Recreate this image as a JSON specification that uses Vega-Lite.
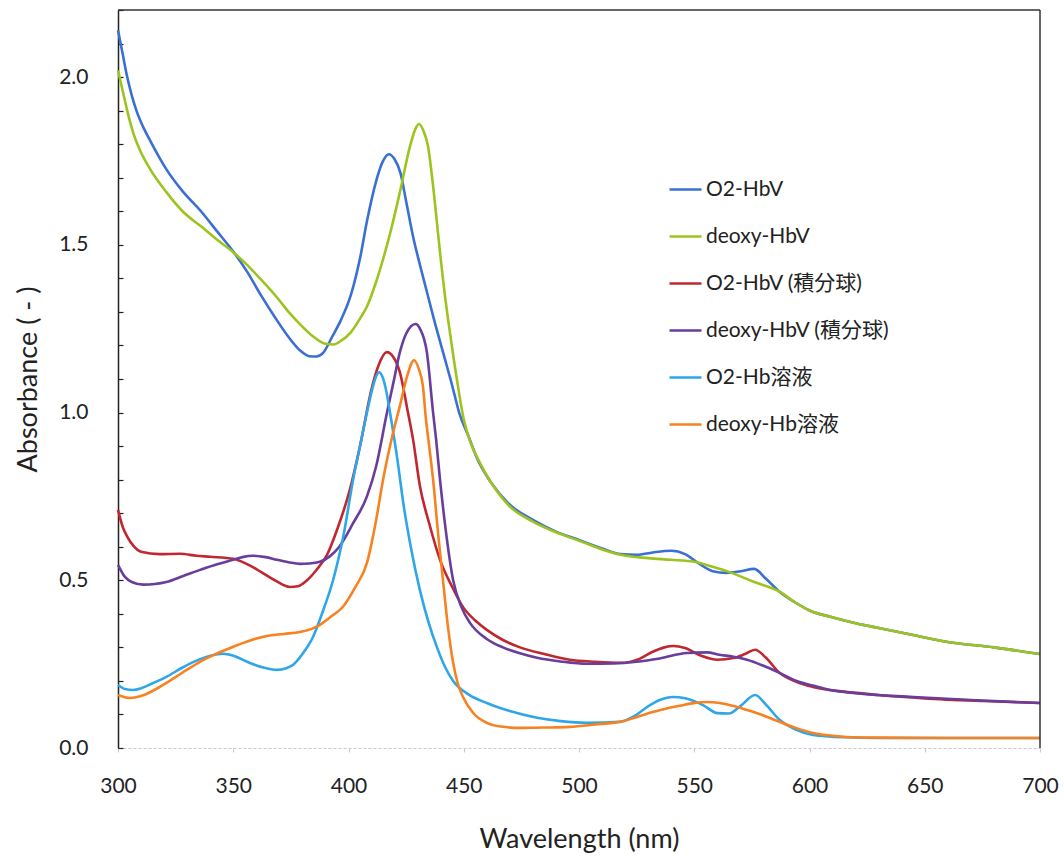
{
  "$schema": "https://vega.github.io/schema/vega-lite/v6.json",
  "width": 922,
  "height": 738,
  "autosize": {"type": "none"},
  "padding": {"left": 118, "top": 10, "right": 24, "bottom": 108},
  "background": "white",
  "config": {
    "view": {"stroke": null},
    "font": "Lato, Noto Sans CJK JP",
    "axis": {"labelFont": "Lato", "titleFont": "Lato", "labelColor": "#222", "titleColor": "#222", "titleFontWeight": "normal"},
    "legend": {"labelFont": "Lato, Noto Sans CJK JP"}
  },
  "resolve": {"axis": {"y": "independent"}},
  "datasets": {
    "spec": [
      {"s":"O2-HbV","nm":300,"a":2.14},{"s":"O2-HbV","nm":302,"a":2.07},{"s":"O2-HbV","nm":304,"a":2.0},{"s":"O2-HbV","nm":306,"a":1.945},{"s":"O2-HbV","nm":308,"a":1.9},{"s":"O2-HbV","nm":311,"a":1.85},{"s":"O2-HbV","nm":314,"a":1.81},{"s":"O2-HbV","nm":321,"a":1.725},{"s":"O2-HbV","nm":328,"a":1.66},{"s":"O2-HbV","nm":336,"a":1.6},{"s":"O2-HbV","nm":343,"a":1.54},{"s":"O2-HbV","nm":350,"a":1.48},{"s":"O2-HbV","nm":356,"a":1.42},{"s":"O2-HbV","nm":362,"a":1.35},{"s":"O2-HbV","nm":368,"a":1.285},{"s":"O2-HbV","nm":374,"a":1.225},{"s":"O2-HbV","nm":379,"a":1.185},{"s":"O2-HbV","nm":383,"a":1.168},{"s":"O2-HbV","nm":386,"a":1.167},{"s":"O2-HbV","nm":389,"a":1.178},{"s":"O2-HbV","nm":393,"a":1.227},{"s":"O2-HbV","nm":397,"a":1.28},{"s":"O2-HbV","nm":401,"a":1.35},{"s":"O2-HbV","nm":405,"a":1.46},{"s":"O2-HbV","nm":408,"a":1.57},{"s":"O2-HbV","nm":412,"a":1.69},{"s":"O2-HbV","nm":415,"a":1.75},{"s":"O2-HbV","nm":417.5,"a":1.77},{"s":"O2-HbV","nm":420,"a":1.755},{"s":"O2-HbV","nm":422.5,"a":1.715},{"s":"O2-HbV","nm":425,"a":1.63},{"s":"O2-HbV","nm":428,"a":1.525},{"s":"O2-HbV","nm":431,"a":1.44},{"s":"O2-HbV","nm":434,"a":1.36},{"s":"O2-HbV","nm":437,"a":1.28},{"s":"O2-HbV","nm":441,"a":1.18},{"s":"O2-HbV","nm":445,"a":1.08},{"s":"O2-HbV","nm":448,"a":1.0},{"s":"O2-HbV","nm":452,"a":0.93},{"s":"O2-HbV","nm":456,"a":0.86},{"s":"O2-HbV","nm":462,"a":0.79},{"s":"O2-HbV","nm":470,"a":0.725},{"s":"O2-HbV","nm":480,"a":0.68},{"s":"O2-HbV","nm":490,"a":0.645},{"s":"O2-HbV","nm":500,"a":0.62},{"s":"O2-HbV","nm":510,"a":0.595},{"s":"O2-HbV","nm":518,"a":0.578},{"s":"O2-HbV","nm":525,"a":0.576},{"s":"O2-HbV","nm":532,"a":0.583},{"s":"O2-HbV","nm":540,"a":0.588},{"s":"O2-HbV","nm":546,"a":0.578},{"s":"O2-HbV","nm":552,"a":0.55},{"s":"O2-HbV","nm":558,"a":0.527},{"s":"O2-HbV","nm":564,"a":0.522},{"s":"O2-HbV","nm":570,"a":0.527},{"s":"O2-HbV","nm":576,"a":0.534},{"s":"O2-HbV","nm":581,"a":0.505},{"s":"O2-HbV","nm":587,"a":0.466},{"s":"O2-HbV","nm":594,"a":0.433},{"s":"O2-HbV","nm":600,"a":0.41},{"s":"O2-HbV","nm":609,"a":0.391},{"s":"O2-HbV","nm":620,"a":0.372},{"s":"O2-HbV","nm":630,"a":0.358},{"s":"O2-HbV","nm":645,"a":0.337},{"s":"O2-HbV","nm":660,"a":0.316},{"s":"O2-HbV","nm":680,"a":0.3},{"s":"O2-HbV","nm":700,"a":0.28},

      {"s":"deoxy-HbV","nm":300,"a":2.02},{"s":"deoxy-HbV","nm":302,"a":1.96},{"s":"deoxy-HbV","nm":304,"a":1.9},{"s":"deoxy-HbV","nm":306.5,"a":1.836},{"s":"deoxy-HbV","nm":310,"a":1.775},{"s":"deoxy-HbV","nm":314,"a":1.725},{"s":"deoxy-HbV","nm":321,"a":1.657},{"s":"deoxy-HbV","nm":328,"a":1.6},{"s":"deoxy-HbV","nm":336,"a":1.555},{"s":"deoxy-HbV","nm":343,"a":1.515},{"s":"deoxy-HbV","nm":350,"a":1.478},{"s":"deoxy-HbV","nm":356,"a":1.44},{"s":"deoxy-HbV","nm":362,"a":1.397},{"s":"deoxy-HbV","nm":369,"a":1.343},{"s":"deoxy-HbV","nm":374,"a":1.3},{"s":"deoxy-HbV","nm":379,"a":1.263},{"s":"deoxy-HbV","nm":385,"a":1.225},{"s":"deoxy-HbV","nm":390,"a":1.205},{"s":"deoxy-HbV","nm":393.5,"a":1.203},{"s":"deoxy-HbV","nm":397,"a":1.215},{"s":"deoxy-HbV","nm":401,"a":1.239},{"s":"deoxy-HbV","nm":405,"a":1.28},{"s":"deoxy-HbV","nm":408,"a":1.316},{"s":"deoxy-HbV","nm":412,"a":1.39},{"s":"deoxy-HbV","nm":415,"a":1.457},{"s":"deoxy-HbV","nm":419,"a":1.56},{"s":"deoxy-HbV","nm":422.3,"a":1.657},{"s":"deoxy-HbV","nm":426.7,"a":1.794},{"s":"deoxy-HbV","nm":429,"a":1.845},{"s":"deoxy-HbV","nm":430.6,"a":1.86},{"s":"deoxy-HbV","nm":432.5,"a":1.84},{"s":"deoxy-HbV","nm":434.5,"a":1.794},{"s":"deoxy-HbV","nm":436.7,"a":1.675},{"s":"deoxy-HbV","nm":439.7,"a":1.478},{"s":"deoxy-HbV","nm":442,"a":1.34},{"s":"deoxy-HbV","nm":444,"a":1.239},{"s":"deoxy-HbV","nm":447,"a":1.1},{"s":"deoxy-HbV","nm":450,"a":0.98},{"s":"deoxy-HbV","nm":453,"a":0.91},{"s":"deoxy-HbV","nm":457,"a":0.85},{"s":"deoxy-HbV","nm":462,"a":0.79},{"s":"deoxy-HbV","nm":470,"a":0.72},{"s":"deoxy-HbV","nm":480,"a":0.675},{"s":"deoxy-HbV","nm":490,"a":0.643},{"s":"deoxy-HbV","nm":500,"a":0.618},{"s":"deoxy-HbV","nm":510,"a":0.592},{"s":"deoxy-HbV","nm":518,"a":0.576},{"s":"deoxy-HbV","nm":530,"a":0.566},{"s":"deoxy-HbV","nm":540,"a":0.561},{"s":"deoxy-HbV","nm":550,"a":0.555},{"s":"deoxy-HbV","nm":558,"a":0.54},{"s":"deoxy-HbV","nm":565,"a":0.525},{"s":"deoxy-HbV","nm":576,"a":0.495},{"s":"deoxy-HbV","nm":587,"a":0.466},{"s":"deoxy-HbV","nm":594,"a":0.433},{"s":"deoxy-HbV","nm":600,"a":0.41},{"s":"deoxy-HbV","nm":609,"a":0.391},{"s":"deoxy-HbV","nm":620,"a":0.372},{"s":"deoxy-HbV","nm":630,"a":0.358},{"s":"deoxy-HbV","nm":645,"a":0.337},{"s":"deoxy-HbV","nm":660,"a":0.316},{"s":"deoxy-HbV","nm":680,"a":0.3},{"s":"deoxy-HbV","nm":700,"a":0.28},

      {"s":"O2-HbV (積分球)","nm":300,"a":0.71},{"s":"O2-HbV (積分球)","nm":302,"a":0.66},{"s":"O2-HbV (積分球)","nm":304,"a":0.63},{"s":"O2-HbV (積分球)","nm":307,"a":0.6},{"s":"O2-HbV (積分球)","nm":310,"a":0.585},{"s":"O2-HbV (積分球)","nm":318,"a":0.578},{"s":"O2-HbV (積分球)","nm":327,"a":0.579},{"s":"O2-HbV (積分球)","nm":334,"a":0.573},{"s":"O2-HbV (積分球)","nm":340,"a":0.57},{"s":"O2-HbV (積分球)","nm":350,"a":0.564},{"s":"O2-HbV (積分球)","nm":356,"a":0.548},{"s":"O2-HbV (積分球)","nm":362,"a":0.525},{"s":"O2-HbV (積分球)","nm":368,"a":0.5},{"s":"O2-HbV (積分球)","nm":374.6,"a":0.48},{"s":"O2-HbV (積分球)","nm":378,"a":0.482},{"s":"O2-HbV (積分球)","nm":382,"a":0.5},{"s":"O2-HbV (積分球)","nm":386,"a":0.53},{"s":"O2-HbV (積分球)","nm":390.7,"a":0.576},{"s":"O2-HbV (積分球)","nm":395,"a":0.65},{"s":"O2-HbV (積分球)","nm":400.6,"a":0.77},{"s":"O2-HbV (積分球)","nm":405,"a":0.9},{"s":"O2-HbV (積分球)","nm":410,"a":1.07},{"s":"O2-HbV (積分球)","nm":413,"a":1.14},{"s":"O2-HbV (積分球)","nm":416.6,"a":1.18},{"s":"O2-HbV (積分球)","nm":419.5,"a":1.165},{"s":"O2-HbV (積分球)","nm":422.3,"a":1.12},{"s":"O2-HbV (積分球)","nm":425.8,"a":1.0},{"s":"O2-HbV (積分球)","nm":428,"a":0.92},{"s":"O2-HbV (積分球)","nm":431,"a":0.78},{"s":"O2-HbV (積分球)","nm":435,"a":0.67},{"s":"O2-HbV (積分球)","nm":439.7,"a":0.561},{"s":"O2-HbV (積分球)","nm":445,"a":0.48},{"s":"O2-HbV (積分球)","nm":449.7,"a":0.42},{"s":"O2-HbV (積分球)","nm":455,"a":0.38},{"s":"O2-HbV (積分球)","nm":460,"a":0.352},{"s":"O2-HbV (積分球)","nm":467,"a":0.322},{"s":"O2-HbV (積分球)","nm":474.4,"a":0.3},{"s":"O2-HbV (積分球)","nm":485,"a":0.28},{"s":"O2-HbV (積分球)","nm":496,"a":0.263},{"s":"O2-HbV (積分球)","nm":507,"a":0.257},{"s":"O2-HbV (積分球)","nm":518,"a":0.254},{"s":"O2-HbV (積分球)","nm":526,"a":0.265},{"s":"O2-HbV (積分球)","nm":532,"a":0.287},{"s":"O2-HbV (積分球)","nm":537,"a":0.3},{"s":"O2-HbV (積分球)","nm":541,"a":0.304},{"s":"O2-HbV (積分球)","nm":546,"a":0.298},{"s":"O2-HbV (積分球)","nm":553,"a":0.275},{"s":"O2-HbV (積分球)","nm":560,"a":0.263},{"s":"O2-HbV (積分球)","nm":567,"a":0.268},{"s":"O2-HbV (積分球)","nm":572,"a":0.28},{"s":"O2-HbV (積分球)","nm":576.4,"a":0.293},{"s":"O2-HbV (積分球)","nm":581,"a":0.27},{"s":"O2-HbV (積分球)","nm":587,"a":0.224},{"s":"O2-HbV (積分球)","nm":594,"a":0.198},{"s":"O2-HbV (積分球)","nm":601.5,"a":0.182},{"s":"O2-HbV (積分球)","nm":615,"a":0.168},{"s":"O2-HbV (積分球)","nm":630,"a":0.158},{"s":"O2-HbV (積分球)","nm":650,"a":0.148},{"s":"O2-HbV (積分球)","nm":675,"a":0.14},{"s":"O2-HbV (積分球)","nm":700,"a":0.134},

      {"s":"deoxy-HbV (積分球)","nm":300,"a":0.546},{"s":"deoxy-HbV (積分球)","nm":303,"a":0.51},{"s":"deoxy-HbV (積分球)","nm":306,"a":0.495},{"s":"deoxy-HbV (積分球)","nm":311,"a":0.487},{"s":"deoxy-HbV (積分球)","nm":316,"a":0.489},{"s":"deoxy-HbV (積分球)","nm":321,"a":0.495},{"s":"deoxy-HbV (積分球)","nm":328,"a":0.512},{"s":"deoxy-HbV (積分球)","nm":335.6,"a":0.531},{"s":"deoxy-HbV (積分球)","nm":343,"a":0.548},{"s":"deoxy-HbV (積分球)","nm":350,"a":0.561},{"s":"deoxy-HbV (積分球)","nm":354,"a":0.569},{"s":"deoxy-HbV (積分球)","nm":358.6,"a":0.573},{"s":"deoxy-HbV (積分球)","nm":364,"a":0.569},{"s":"deoxy-HbV (積分球)","nm":369,"a":0.561},{"s":"deoxy-HbV (積分球)","nm":374,"a":0.554},{"s":"deoxy-HbV (積分球)","nm":379,"a":0.549},{"s":"deoxy-HbV (積分球)","nm":383,"a":0.55},{"s":"deoxy-HbV (積分球)","nm":387.6,"a":0.555},{"s":"deoxy-HbV (積分球)","nm":392,"a":0.572},{"s":"deoxy-HbV (積分球)","nm":396,"a":0.6},{"s":"deoxy-HbV (積分球)","nm":402,"a":0.67},{"s":"deoxy-HbV (積分球)","nm":408,"a":0.75},{"s":"deoxy-HbV (積分球)","nm":412,"a":0.84},{"s":"deoxy-HbV (積分球)","nm":416.7,"a":1.0},{"s":"deoxy-HbV (積分球)","nm":419.5,"a":1.09},{"s":"deoxy-HbV (積分球)","nm":422.3,"a":1.18},{"s":"deoxy-HbV (積分球)","nm":425,"a":1.235},{"s":"deoxy-HbV (積分球)","nm":429.1,"a":1.264},{"s":"deoxy-HbV (積分球)","nm":431,"a":1.25},{"s":"deoxy-HbV (積分球)","nm":434,"a":1.18},{"s":"deoxy-HbV (積分球)","nm":436.7,"a":1.0},{"s":"deoxy-HbV (積分球)","nm":438,"a":0.92},{"s":"deoxy-HbV (積分球)","nm":439.7,"a":0.8},{"s":"deoxy-HbV (積分球)","nm":442,"a":0.66},{"s":"deoxy-HbV (積分球)","nm":445.4,"a":0.5},{"s":"deoxy-HbV (積分球)","nm":449,"a":0.42},{"s":"deoxy-HbV (積分球)","nm":452.7,"a":0.373},{"s":"deoxy-HbV (積分球)","nm":460,"a":0.325},{"s":"deoxy-HbV (積分球)","nm":467,"a":0.3},{"s":"deoxy-HbV (積分球)","nm":474,"a":0.283},{"s":"deoxy-HbV (積分球)","nm":481.8,"a":0.269},{"s":"deoxy-HbV (積分球)","nm":492,"a":0.258},{"s":"deoxy-HbV (積分球)","nm":503.5,"a":0.251},{"s":"deoxy-HbV (積分球)","nm":515,"a":0.252},{"s":"deoxy-HbV (積分球)","nm":525,"a":0.257},{"s":"deoxy-HbV (積分球)","nm":535,"a":0.267},{"s":"deoxy-HbV (積分球)","nm":546.8,"a":0.283},{"s":"deoxy-HbV (積分球)","nm":555.5,"a":0.285},{"s":"deoxy-HbV (積分球)","nm":561,"a":0.278},{"s":"deoxy-HbV (積分球)","nm":567,"a":0.272},{"s":"deoxy-HbV (積分球)","nm":572.9,"a":0.263},{"s":"deoxy-HbV (積分球)","nm":580,"a":0.245},{"s":"deoxy-HbV (積分球)","nm":587,"a":0.224},{"s":"deoxy-HbV (積分球)","nm":595,"a":0.198},{"s":"deoxy-HbV (積分球)","nm":601.5,"a":0.186},{"s":"deoxy-HbV (積分球)","nm":609,"a":0.173},{"s":"deoxy-HbV (積分球)","nm":620,"a":0.163},{"s":"deoxy-HbV (積分球)","nm":645,"a":0.152},{"s":"deoxy-HbV (積分球)","nm":670,"a":0.143},{"s":"deoxy-HbV (積分球)","nm":700,"a":0.134},

      {"s":"O2-Hb溶液","nm":300,"a":0.188},{"s":"O2-Hb溶液","nm":303,"a":0.176},{"s":"O2-Hb溶液","nm":306.5,"a":0.173},{"s":"O2-Hb溶液","nm":310,"a":0.178},{"s":"O2-Hb溶液","nm":315,"a":0.193},{"s":"O2-Hb溶液","nm":321,"a":0.212},{"s":"O2-Hb溶液","nm":328,"a":0.24},{"s":"O2-Hb溶液","nm":335.6,"a":0.265},{"s":"O2-Hb溶液","nm":340,"a":0.275},{"s":"O2-Hb溶液","nm":345.6,"a":0.281},{"s":"O2-Hb溶液","nm":350,"a":0.275},{"s":"O2-Hb溶液","nm":357,"a":0.254},{"s":"O2-Hb溶液","nm":363,"a":0.24},{"s":"O2-Hb溶液","nm":369,"a":0.233},{"s":"O2-Hb溶液","nm":373,"a":0.238},{"s":"O2-Hb溶液","nm":376,"a":0.248},{"s":"O2-Hb溶液","nm":380,"a":0.28},{"s":"O2-Hb溶液","nm":384.6,"a":0.331},{"s":"O2-Hb溶液","nm":389,"a":0.41},{"s":"O2-Hb溶液","nm":393.3,"a":0.5},{"s":"O2-Hb溶液","nm":398,"a":0.64},{"s":"O2-Hb溶液","nm":402,"a":0.8},{"s":"O2-Hb溶液","nm":405,"a":0.9},{"s":"O2-Hb溶液","nm":408,"a":1.0},{"s":"O2-Hb溶液","nm":410.5,"a":1.075},{"s":"O2-Hb溶液","nm":412,"a":1.108},{"s":"O2-Hb溶液","nm":413.3,"a":1.12},{"s":"O2-Hb溶液","nm":414.8,"a":1.105},{"s":"O2-Hb溶液","nm":416.5,"a":1.06},{"s":"O2-Hb溶液","nm":418,"a":1.0},{"s":"O2-Hb溶液","nm":421,"a":0.87},{"s":"O2-Hb溶液","nm":424,"a":0.72},{"s":"O2-Hb溶液","nm":427,"a":0.6},{"s":"O2-Hb溶液","nm":431,"a":0.47},{"s":"O2-Hb溶液","nm":434.5,"a":0.38},{"s":"O2-Hb溶液","nm":438.4,"a":0.3},{"s":"O2-Hb溶液","nm":442,"a":0.24},{"s":"O2-Hb溶液","nm":445.4,"a":0.2},{"s":"O2-Hb溶液","nm":452,"a":0.16},{"s":"O2-Hb溶液","nm":460,"a":0.134},{"s":"O2-Hb溶液","nm":470,"a":0.11},{"s":"O2-Hb溶液","nm":481.8,"a":0.09},{"s":"O2-Hb溶液","nm":492,"a":0.08},{"s":"O2-Hb溶液","nm":503.5,"a":0.075},{"s":"O2-Hb溶液","nm":517.8,"a":0.078},{"s":"O2-Hb溶液","nm":524,"a":0.095},{"s":"O2-Hb溶液","nm":529.5,"a":0.122},{"s":"O2-Hb溶液","nm":535,"a":0.143},{"s":"O2-Hb溶液","nm":540.8,"a":0.152},{"s":"O2-Hb溶液","nm":546,"a":0.148},{"s":"O2-Hb溶液","nm":553.8,"a":0.128},{"s":"O2-Hb溶液","nm":560,"a":0.104},{"s":"O2-Hb溶液","nm":565,"a":0.103},{"s":"O2-Hb溶液","nm":570,"a":0.125},{"s":"O2-Hb溶液","nm":576.4,"a":0.158},{"s":"O2-Hb溶液","nm":581,"a":0.13},{"s":"O2-Hb溶液","nm":587,"a":0.084},{"s":"O2-Hb溶液","nm":594,"a":0.055},{"s":"O2-Hb溶液","nm":601.5,"a":0.039},{"s":"O2-Hb溶液","nm":615,"a":0.032},{"s":"O2-Hb溶液","nm":630,"a":0.03},{"s":"O2-Hb溶液","nm":660,"a":0.03},{"s":"O2-Hb溶液","nm":700,"a":0.03},

      {"s":"deoxy-Hb溶液","nm":300,"a":0.158},{"s":"deoxy-Hb溶液","nm":305.2,"a":0.149},{"s":"deoxy-Hb溶液","nm":310,"a":0.155},{"s":"deoxy-Hb溶液","nm":315,"a":0.17},{"s":"deoxy-Hb溶液","nm":321,"a":0.194},{"s":"deoxy-Hb溶液","nm":328,"a":0.225},{"s":"deoxy-Hb溶液","nm":335.6,"a":0.257},{"s":"deoxy-Hb溶液","nm":343,"a":0.282},{"s":"deoxy-Hb溶液","nm":350,"a":0.302},{"s":"deoxy-Hb溶液","nm":357,"a":0.32},{"s":"deoxy-Hb溶液","nm":364.6,"a":0.334},{"s":"deoxy-Hb溶液","nm":372,"a":0.34},{"s":"deoxy-Hb溶液","nm":379,"a":0.346},{"s":"deoxy-Hb溶液","nm":384,"a":0.355},{"s":"deoxy-Hb溶液","nm":387.6,"a":0.367},{"s":"deoxy-Hb溶液","nm":392,"a":0.39},{"s":"deoxy-Hb溶液","nm":397.6,"a":0.421},{"s":"deoxy-Hb溶液","nm":403,"a":0.48},{"s":"deoxy-Hb溶液","nm":408,"a":0.552},{"s":"deoxy-Hb溶液","nm":412,"a":0.68},{"s":"deoxy-Hb溶液","nm":415,"a":0.8},{"s":"deoxy-Hb溶液","nm":419,"a":0.93},{"s":"deoxy-Hb溶液","nm":422.3,"a":1.02},{"s":"deoxy-Hb溶液","nm":425.5,"a":1.11},{"s":"deoxy-Hb溶液","nm":428.4,"a":1.156},{"s":"deoxy-Hb溶液","nm":430.5,"a":1.13},{"s":"deoxy-Hb溶液","nm":432.3,"a":1.078},{"s":"deoxy-Hb溶液","nm":433.6,"a":0.98},{"s":"deoxy-Hb溶液","nm":435,"a":0.9},{"s":"deoxy-Hb溶液","nm":436.7,"a":0.8},{"s":"deoxy-Hb溶液","nm":439,"a":0.63},{"s":"deoxy-Hb溶液","nm":441,"a":0.5},{"s":"deoxy-Hb溶液","nm":443,"a":0.37},{"s":"deoxy-Hb溶液","nm":445.4,"a":0.254},{"s":"deoxy-Hb溶液","nm":447.5,"a":0.19},{"s":"deoxy-Hb溶液","nm":449.7,"a":0.152},{"s":"deoxy-Hb溶液","nm":454,"a":0.105},{"s":"deoxy-Hb溶液","nm":460,"a":0.075},{"s":"deoxy-Hb溶液","nm":466,"a":0.064},{"s":"deoxy-Hb溶液","nm":474.4,"a":0.06},{"s":"deoxy-Hb溶液","nm":485,"a":0.061},{"s":"deoxy-Hb溶液","nm":496,"a":0.063},{"s":"deoxy-Hb溶液","nm":507,"a":0.07},{"s":"deoxy-Hb溶液","nm":517.8,"a":0.078},{"s":"deoxy-Hb溶液","nm":525,"a":0.092},{"s":"deoxy-Hb溶液","nm":532,"a":0.107},{"s":"deoxy-Hb溶液","nm":538,"a":0.118},{"s":"deoxy-Hb溶液","nm":543.8,"a":0.126},{"s":"deoxy-Hb溶液","nm":549,"a":0.133},{"s":"deoxy-Hb溶液","nm":555.5,"a":0.137},{"s":"deoxy-Hb溶液","nm":561,"a":0.134},{"s":"deoxy-Hb溶液","nm":567,"a":0.125},{"s":"deoxy-Hb溶液","nm":572.9,"a":0.113},{"s":"deoxy-Hb溶液","nm":580,"a":0.097},{"s":"deoxy-Hb溶液","nm":587,"a":0.078},{"s":"deoxy-Hb溶液","nm":594,"a":0.06},{"s":"deoxy-Hb溶液","nm":601.5,"a":0.045},{"s":"deoxy-Hb溶液","nm":608,"a":0.038},{"s":"deoxy-Hb溶液","nm":616,"a":0.033},{"s":"deoxy-Hb溶液","nm":630,"a":0.031},{"s":"deoxy-Hb溶液","nm":660,"a":0.03},{"s":"deoxy-Hb溶液","nm":700,"a":0.03}
    ]
  },
  "layer": [
    {
      "data": {"name": "spec"},
      "mark": {"type": "line", "interpolate": "monotone", "strokeWidth": 2.6},
      "encoding": {
        "x": {
          "field": "nm", "type": "quantitative",
          "scale": {"domain": [300, 700], "nice": false, "zero": false},
          "axis": {
            "title": "Wavelength (nm)", "values": [300, 350, 400, 450, 500, 550, 600, 650, 700],
            "grid": false, "labelFontSize": 21, "titleFontSize": 27, "labelPadding": 23,
            "titlePadding": 30, "domainColor": "#c8c8cc", "domainDash": [3, 2], "tickColor": "#c8c8cc", "tickSize": 4, "labelFlush": false
          }
        },
        "y": {
          "field": "a", "type": "quantitative",
          "scale": {"domain": [0, 2.2], "nice": false},
          "axis": {
            "title": "Absorbance ( - )",
            "values": [0, 0.5, 1.0, 1.5, 2.0],
            "format": ".1f",
            "labelOverlap": false, "ticks": false, "domain": false,
            "grid": false, "labelFontSize": 21, "titleFontSize": 27, "labelPadding": 30,
            "titlePadding": 16, "labelFlush": false
          }
        },
        "color": {
          "field": "s", "type": "nominal",
          "scale": {
            "domain": ["O2-HbV", "deoxy-HbV", "O2-HbV (積分球)", "deoxy-HbV (積分球)", "O2-Hb溶液", "deoxy-Hb溶液"],
            "range": ["#3a6fd4", "#9dc41e", "#c0272f", "#693d9c", "#2ea6e8", "#f7821f"]
          },
          "legend": {
            "title": null, "orient": "none", "legendX": 550, "legendY": 162,
            "symbolType": "stroke", "symbolSize": 1024, "symbolStrokeWidth": 2.5,
            "labelFontSize": 21, "labelColor": "#222", "labelOffset": 3, "rowPadding": 19, "labelLimit": 400
          }
        }
      }
    },
    {
      "data": {"values": [{}]},
      "mark": {"type": "rule", "color": "#333", "strokeWidth": 1.5},
      "encoding": {
        "y": {
          "datum": 2.2, "type": "quantitative",
          "axis": {
            "orient": "left", "title": null, "labels": false,
            "values": [0, 0.1, 0.2, 0.3, 0.4, 0.5, 0.6, 0.7, 0.8, 0.9, 1.0, 1.1, 1.2, 1.3, 1.4, 1.5, 1.6, 1.7, 1.8, 1.9, 2.0, 2.1, 2.2],
            "grid": false, "tickSize": -5, "tickColor": "#222", "tickWidth": 1.2, "domainColor": "#222", "domainWidth": 1.5
          }
        }
      }
    },
    {
      "data": {"values": [{}]},
      "mark": {"type": "rule", "color": "#333", "strokeWidth": 1.5},
      "encoding": {"x": {"datum": 700}}
    }
  ]
}
